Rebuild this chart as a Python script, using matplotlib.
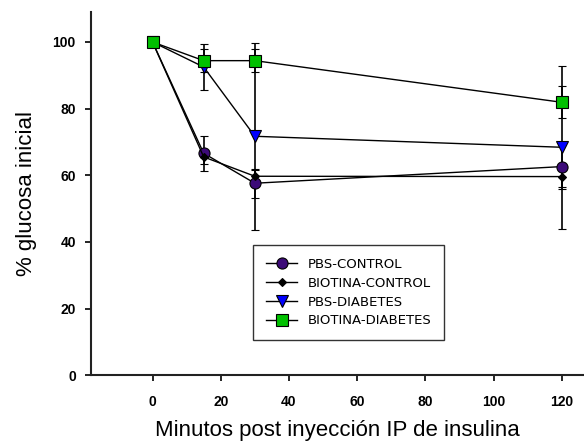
import matplotlib.pyplot as plt

plt.rcParams['font.family'] = ['Liberation Sans', 'DejaVu Sans']

# DATA
minutos = [0, 15, 30, 120]

pbs_control = [100, 66.6, 57.6, 62.6]
pbs_control_err = [0, 5.3, 4.4, 6.6]

biotina_control = [100, 65.5, 59.7, 59.6]
biotina_control_err = [0, 2.0, 2.0, 3.0]

pbs_diabetes = [100, 92.5, 71.7, 68.4]
pbs_diabetes_err = [0, 6.8, 28.0, 24.4]

biotina_diabetes = [100, 94.4, 94.4, 81.9]
biotina_diabetes_err = [0, 3.5, 3.5, 4.8]

series = [
    ("PBS-CONTROL", pbs_control, pbs_control_err, 'o', '#3c0a78', 8),
    ("BIOTINA-CONTROL", biotina_control, biotina_control_err, 'D', 'black', 4),
    ("PBS-DIABETES", pbs_diabetes, pbs_diabetes_err, 'v', '#0000ff', 9),
    ("BIOTINA-DIABETES", biotina_diabetes, biotina_diabetes_err, 's', '#00c000', 9),
]

fig = plt.figure(figsize=(5.84, 4.45), dpi=100)
ax = fig.add_axes([0.156, 0.157, 0.844, 0.816])

handles = []
for name, vals, err, mk, col, ms in series:
    c = ax.errorbar(minutos, vals, yerr=err, color='black', lw=1, marker=mk,
                    markersize=ms, markerfacecolor=col, markeredgecolor='black',
                    markeredgewidth=0.8, capsize=2.8, elinewidth=1.2,
                    capthick=1.2, label=name)
    handles.append(c[0])

ax.set_xlim(-18, 126.5)
ax.set_ylim(0, 109)
ax.set_xticks([0, 20, 40, 60, 80, 100, 120])
ax.set_yticks([0, 20, 40, 60, 80, 100])

for s in ['top', 'right']:
    ax.spines[s].set_visible(False)
for s in ['left', 'bottom']:
    ax.spines[s].set_linewidth(1.5)
    ax.spines[s].set_color('#222222')

ax.tick_params(direction='out', length=4, width=1.2, labelsize=10)
ax.tick_params(axis='x', pad=10)
ax.tick_params(axis='y', pad=7)
for lbl in ax.get_xticklabels() + ax.get_yticklabels():
    lbl.set_fontweight('bold')

ax.set_xlabel("Minutos post inyección IP de insulina", fontsize=16, labelpad=8.5)
ax.set_ylabel("% glucosa inicial", fontsize=16, labelpad=11)

leg = ax.legend(handles, [s[0] for s in series], loc='upper left',
                bbox_to_anchor=(0.329, 0.358),
                prop={'family': 'DejaVu Sans', 'size': 9.5},
                frameon=True, fancybox=False, edgecolor='black',
                handlelength=2.4, handletextpad=0.75, borderpad=0.95,
                labelspacing=0.45, borderaxespad=0)
leg.get_frame().set_linewidth(1)

fig.savefig('out.png', dpi=100)
